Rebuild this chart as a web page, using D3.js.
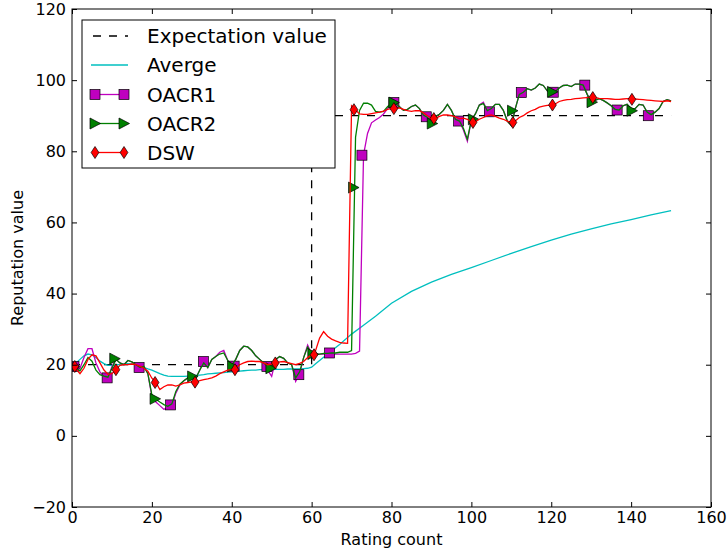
<!DOCTYPE html>
<html><head><meta charset="utf-8">
<script src="https://cdn.jsdelivr.net/npm/d3@7"></script>
<style>body{margin:0;background:#fff;} svg{display:block;font-family:"DejaVu Sans",sans-serif;}</style>
</head><body><svg id="c" width="728" height="552"></svg>
<script>
// ---------------- data ----------------
const xTicks = [0, 20, 40, 60, 80, 100, 120, 140, 160];
const yTicks = [-20, 0, 20, 40, 60, 80, 100, 120];
const xLabel = "Rating count";
const yLabel = "Reputation value";
const seriesNames = ["Expectation value", "Averge", "OACR1", "OACR2", "DSW"];

const expX = [0, 60, 60, 150];
const expY = [20, 20, 90, 90];

const avgX = [0,1,2,3,4,5,6,7,8,9,10,11,12,13,14,15,16,17,18,19,20,21,22,23,24,25,26,27,28,29,
  30,31,32,33,34,35,36,37,38,39,40,41,42,43,44,45,46,47,48,49,50,51,52,53,54,55,56,57,58,59,60,
  61,62,63,64,65,67,70,73,76,80,85,90,95,100,105,110,115,120,125,130,135,140,145,150];
const avgY = [20,20.5,21.5,22.5,23,22.8,22,21,20.3,19.8,
  19.8,20,20,20.2,20.3,20.2,20,19.8,19.2,18.8,
  18.5,18,17.5,17.1,16.8,16.7,16.7,16.7,16.7,16.8,
  16.9,17,17.1,17.2,17.4,17.5,17.6,17.7,17.8,17.9,
  18,18.1,18.2,18.3,18.4,18.5,18.5,18.6,18.6,18.6,
  18.6,18.7,18.7,18.7,18.8,18.8,18.8,18.8,18.9,19,
  19.3,
  20.3,21.2,22.1,23,23.9,25.7,28.6,31.1,33.6,37.3,40.6,43.2,45.4,47.3,49.3,51.3,53.2,55,56.7,58.2,59.6,60.8,62.1,63.3];

const oacr1 = [19.5,19,19,22,24.5,24.5,20.5,18,16.5,16.3,
  19.5,21.5,20.5,20,21.2,20.8,20,19.3,19.5,17.5,
  11,9.5,8.5,7.5,7.8,8.5,12,14.3,15.5,16.3,
  16.6,16.2,18.5,21,19.2,21.5,22.3,23.5,24,21.2,
  19.8,21.5,24,25.2,25,24,22.5,21.5,20.5,18.5,
  16.7,21.5,22.3,21.8,20.5,20,15.3,17.5,22,25.5,
  23,22.8,23,23,23,23,23,23,23,23,
  23,23.2,23.8,79,85,88,88.8,89.5,90.5,92,
  93.5,93.5,92.5,91.5,91.8,92.6,93,92,90.2,89.5,
  88.2,89.8,90.4,91.5,93.2,91.5,89,88.5,86,82.8,
  88.8,90.5,93,93.8,91.4,92,93.2,93.2,91.5,88.5,
  87.2,92,96,96.6,97.6,97.2,97.8,98.9,98.5,97,
  96.3,96.8,97.8,98.5,98.6,98.2,98.9,98.9,98.6,96,
  94,94.3,94.8,94.3,93.6,92.8,91.8,91.6,92.8,93.2,
  92,92,93.2,93,91,90.3,91,92,94,94.5,
  94.2];

const oacr2 = [19.5,19,18.3,20,22,21,18.5,17.2,16.8,16.5,
  19,21.5,20.5,20,21.2,20.8,20,19.3,19.5,17.5,
  11.5,10.3,9.5,8.8,8.3,9,12.5,14.5,15.5,16.3,
  16.6,16.2,18.5,20.5,19.2,21.5,22.3,23,23.3,21.2,
  19.8,21.5,24,25.2,25,24,22.5,21.5,20.5,19.5,
  19.3,21.5,22.3,21.8,20.5,20,16.3,18,22,25,
  23,22.8,23,23.2,23.2,23.3,23.3,23.5,23.5,23.5,
  24,84,91.5,93.5,93.5,93,91.2,91,91.2,92.5,
  93.5,93.5,92.5,91.5,91.8,92.6,93,92,90.2,89.5,
  88.2,89.8,90.4,91.5,93.2,91.5,89,88.5,86.5,83.4,
  88.8,90.5,93,93.4,91.4,92,93.2,93.2,91.5,88.5,
  87.2,92,96,96.6,97.6,97.2,97.8,98.9,98.5,97,
  96.3,96.8,97.8,98.5,98.6,98.2,98.9,98.9,98.6,96,
  94,94.3,94.8,94.3,93.6,92.8,91.8,91.6,92.8,93.2,
  92,92,93.2,93,91,90.3,91,92,94,94.5,
  94.2];

const dsw = [19.2,18.8,17.5,19,21.5,22.8,22.5,20.5,18.5,17.3,
  17.5,18.6,19.8,20,20,20.2,20,19.6,19,18.2,
  16.2,15,13,13.8,14.3,14.3,14,14.3,14.8,15,
  15.2,15.2,15.5,15.8,16,16.3,16.8,17.5,18,18.5,
  18.7,19,20,20.5,20.9,21,20.9,20.9,20.5,20,
  20.2,20.5,20.8,20.9,20.6,20.3,20,20.4,20.9,22,
  22.8,24,27.5,29.3,28,27.2,26.7,26.3,26.1,26,
  92.8,91.6,90.5,90.4,90.4,90.6,90.8,91,91.3,91.8,
  92,92,92.2,91.8,91.4,91.2,91.4,91.4,90.8,90,
  89.4,89.2,89.8,90.2,90.2,90,89.7,89.2,89.3,89,
  88.2,88.3,89,89.5,90,90.2,89.8,89.3,89,88.5,
  88.1,88.5,89.5,90,90.8,91.4,91.8,92.4,92.7,92.9,
  93,93.3,94,94.3,94.5,94.6,94.8,94.9,95,95.1,
  95.2,95.1,94.9,94.8,94.8,94.7,94.6,94.6,94.7,94.8,
  94.8,94.7,94.6,94.5,94.4,94.3,94.2,94.1,94,94.2,
  94];

// marker positions
const sqX = [0.5,8.8,16.8,24.7,32.9,40.6,48.8,56.8,64.5,72.6,80.6,88.7,96.8,104.5,112.5,120.5,128.4,136.5,144.3];
const sqY = [19.5,16.3,19.2,8.7,20.9,19.6,19.5,17.2,23.3,78.9,93.7,89.7,88.5,91.1,96.5,96.6,98.6,91.6,90];
const triX = [0.5,10.7,20.8,30.2,40.2,49.8,60.3,70.5,80.6,90.2,100.5,110.3,120.3,130.2,140.2];
const triY = [19.5,21.7,10.4,16.7,19.5,19,23,69.8,93.7,87.8,89,91.4,96.7,93.8,91.4];
const diaX = [0.7,11,20.8,30.8,40.8,50.9,60.6,70.6,80.6,90.6,100.4,110.4,120.3,130.4,140.2];
const diaY = [19.5,18.6,15,15.1,18.6,20.5,22.8,91.7,92,89.2,88.1,88.1,93,95.1,94.6];

// ---------------- drawing ----------------
const W = 728, H = 552;
const P = {left: 72, right: 711, top: 9, bottom: 507};
const x = d3.scaleLinear().domain([0, 160]).range([P.left, P.right]);
const y = d3.scaleLinear().domain([-20, 120]).range([P.bottom, P.top]);
const svg = d3.select("#c");
svg.append("rect").attr("width", W).attr("height", H).attr("fill", "#fff");

svg.append("defs").append("clipPath").attr("id", "clip")
  .append("rect").attr("x", P.left).attr("y", P.top)
  .attr("width", P.right - P.left).attr("height", P.bottom - P.top);

const colors = {exp: "#000000", avg: "#00bfbf", o1: "#bf00bf", o2: "#008000", dsw: "#ff0000"};
const line = d3.line().x(d => x(d[0])).y(d => y(d[1]));
const plot = svg.append("g").attr("clip-path", "url(#clip)");
const idx = d3.range(oacr1.length);

plot.append("path").datum(expX.map((v, i) => [v, expY[i]]))
  .attr("d", line).attr("fill", "none").attr("stroke", colors.exp)
  .attr("stroke-width", 1.3).attr("stroke-dasharray", "8,8");
plot.append("path").datum(avgX.map((v, i) => [v, avgY[i]]))
  .attr("d", line).attr("fill", "none").attr("stroke", colors.avg).attr("stroke-width", 1.3);

function square(g, cx, cy, col) {
  g.append("rect").attr("x", cx - 5).attr("y", cy - 5).attr("width", 10).attr("height", 10)
    .attr("fill", col).attr("stroke", "#000").attr("stroke-width", 0.7);
}
function tri(g, cx, cy, col) {
  g.append("path").attr("d", `M${cx + 5.5},${cy} L${cx - 5},${cy - 5.5} L${cx - 5},${cy + 5.5} Z`)
    .attr("fill", col).attr("stroke", "#000").attr("stroke-width", 0.7);
}
function dia(g, cx, cy, col) {
  g.append("path").attr("d", `M${cx},${cy - 6} L${cx + 3.9},${cy} L${cx},${cy + 6} L${cx - 3.9},${cy} Z`)
    .attr("fill", col).attr("stroke", "#000").attr("stroke-width", 0.7);
}

const g1 = plot.append("g");
g1.append("path").datum(idx.map(i => [i, oacr1[i]])).attr("d", line)
  .attr("fill", "none").attr("stroke", colors.o1).attr("stroke-width", 1.3);
sqX.forEach((v, i) => square(g1, x(v), y(sqY[i]), colors.o1));

const g2 = plot.append("g");
g2.append("path").datum(idx.map(i => [i, oacr2[i]])).attr("d", line)
  .attr("fill", "none").attr("stroke", colors.o2).attr("stroke-width", 1.3);
triX.forEach((v, i) => tri(g2, x(v), y(triY[i]), colors.o2));

const g3 = plot.append("g");
g3.append("path").datum(idx.map(i => [i, dsw[i]])).attr("d", line)
  .attr("fill", "none").attr("stroke", colors.dsw).attr("stroke-width", 1.3);
diaX.forEach((v, i) => dia(g3, x(v), y(diaY[i]), colors.dsw));

// axes
const fmt = d => d < 0 ? "\u2212" + Math.abs(d) : String(d);
function styleAxis(g) {
  g.select(".domain").remove();
  g.selectAll(".tick line").attr("stroke", "#000").attr("stroke-width", 1);
  g.selectAll("text").attr("font-family", "DejaVu Sans").attr("font-size", 16).attr("fill", "#000");
}
svg.append("g").attr("transform", `translate(0,${P.bottom})`)
  .call(d3.axisBottom(x).tickValues(xTicks).tickSizeInner(-5).tickSizeOuter(0).tickPadding(5).tickFormat(fmt))
  .call(styleAxis);
svg.append("g").attr("transform", `translate(0,${P.top})`)
  .call(d3.axisTop(x).tickValues(xTicks).tickSizeInner(-5).tickSizeOuter(0).tickFormat(""))
  .call(styleAxis);
svg.append("g").attr("transform", `translate(${P.left},0)`)
  .call(d3.axisLeft(y).tickValues(yTicks).tickSizeInner(-5).tickSizeOuter(0).tickPadding(6).tickFormat(fmt))
  .call(styleAxis);
svg.append("g").attr("transform", `translate(${P.right},0)`)
  .call(d3.axisRight(y).tickValues(yTicks).tickSizeInner(-5).tickSizeOuter(0).tickFormat(""))
  .call(styleAxis);

svg.append("rect").attr("x", P.left).attr("y", P.top)
  .attr("width", P.right - P.left).attr("height", P.bottom - P.top)
  .attr("fill", "none").attr("stroke", "#000").attr("stroke-width", 1);

svg.append("text").attr("x", (P.left + P.right) / 2).attr("y", 545)
  .attr("text-anchor", "middle").attr("font-size", 16).text(xLabel);
svg.append("text").attr("transform", `translate(23,${(P.top + P.bottom) / 2}) rotate(-90)`)
  .attr("text-anchor", "middle").attr("font-size", 16).text(yLabel);

// legend
const L = {x: 82, y: 20, w: 253, h: 148};
const leg = svg.append("g");
leg.append("rect").attr("x", L.x).attr("y", L.y).attr("width", L.w).attr("height", L.h)
  .attr("fill", "#fff").attr("stroke", "#000").attr("stroke-width", 1);
const rowY = [36, 65, 94.5, 123.5, 152.5];
const lx0 = 95, lx1 = 124;
leg.append("line").attr("x1", 91).attr("x2", 128).attr("y1", rowY[0]).attr("y2", rowY[0])
  .attr("stroke", "#000").attr("stroke-width", 1.3).attr("stroke-dasharray", "8,8").attr("stroke-dashoffset", -2);
leg.append("line").attr("x1", 91).attr("x2", 128).attr("y1", rowY[1]).attr("y2", rowY[1])
  .attr("stroke", colors.avg).attr("stroke-width", 1.3);
[[colors.o1, square], [colors.o2, tri], [colors.dsw, dia]].forEach(([c, f], k) => {
  const yy = rowY[k + 2];
  leg.append("line").attr("x1", lx0).attr("x2", lx1).attr("y1", yy).attr("y2", yy)
    .attr("stroke", c).attr("stroke-width", 1.3);
  f(leg, lx0, yy, c); f(leg, lx1, yy, c);
});
seriesNames.forEach((n, i) => {
  leg.append("text").attr("x", 147).attr("y", rowY[i]).attr("dy", "0.36em")
    .attr("font-size", 20).text(n);
});
</script></body></html>
